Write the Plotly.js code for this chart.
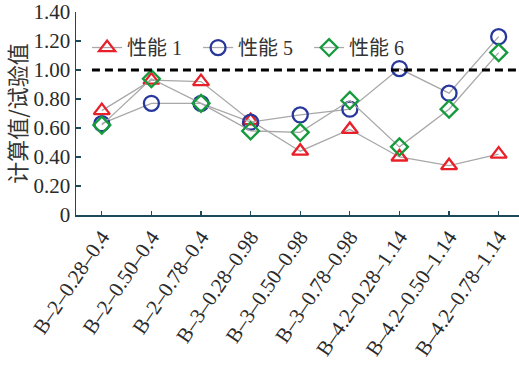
<!DOCTYPE html>
<html>
<head>
<meta charset="utf-8">
<script src="https://cdn.plot.ly/plotly-3.0.1.min.js"></script>
<style>html,body{margin:0;padding:0;background:#fff;}#chart{width:519px;height:368px;}</style>
</head>
<body>
<div id="chart"></div>
<script>
const categories = ["B–2–0.28–0.4","B–2–0.50–0.4","B–2–0.78–0.4","B–3–0.28–0.98","B–3–0.50–0.98","B–3–0.78–0.98","B–4.2–0.28–1.14","B–4.2–0.50–1.14","B–4.2–0.78–1.14"];
const perf1 = [0.72, 0.93, 0.92, 0.65, 0.44, 0.59, 0.40, 0.34, 0.42];
const perf5 = [0.63, 0.77, 0.77, 0.64, 0.69, 0.73, 1.01, 0.84, 1.23];
const perf6 = [0.62, 0.94, 0.77, 0.58, 0.57, 0.79, 0.47, 0.73, 1.12];
const seriesNames = ["性能 1", "性能 5", "性能 6"];
const refValue = 1.0;
const yTickVals = [0, 0.2, 0.4, 0.6, 0.8, 1.0, 1.2, 1.4];
const yTickText = ["0", "0.20", "0.40", "0.60", "0.80", "1.00", "1.20", "1.40"];

const xIdx = categories.map((_, i) => i);
const lineGray = "#a8a8a8";
const axisColor = "#1d4a58";
const fontFam = "Liberation Serif, Noto Sans CJK SC, serif";

const traces = [
  {x: xIdx, y: perf1, name: seriesNames[0], mode: "lines+markers",
   line: {color: lineGray, width: 1.3},
   marker: {symbol: "triangle-up-open", size: 14, color: "#e8202a", line: {width: 2.3, color: "#e8202a"}}},
  {x: xIdx, y: perf5, name: seriesNames[1], mode: "lines+markers",
   line: {color: lineGray, width: 1.3},
   marker: {symbol: "circle-open", size: 15, color: "#27379a", line: {width: 2.3, color: "#27379a"}}},
  {x: xIdx, y: perf6, name: seriesNames[2], mode: "lines+markers",
   line: {color: lineGray, width: 1.3},
   marker: {symbol: "diamond-open", size: 13, color: "#159a3c", line: {width: 2.3, color: "#159a3c"}}}
];

const layout = {
  width: 519, height: 368,
  margin: {l: 76, r: 0, t: 12, b: 153},
  paper_bgcolor: "#fff", plot_bgcolor: "#fff",
  font: {family: fontFam, color: "#2a2a2a", size: 19},
  showlegend: true,
  legend: {orientation: "h", x: 0.025, xanchor: "left", y: 0.825, yanchor: "middle",
           bgcolor: "rgba(0,0,0,0)", font: {size: 20, family: fontFam, color: "#333"},
           entrywidth: 66, entrywidthmode: "pixels", tracegroupgap: 0},
  xaxis: {
    range: [-0.52, 8.41],
    tickmode: "array", tickvals: xIdx, ticktext: categories,
    tickangle: -56, ticks: "inside", ticklen: 4, tickcolor: axisColor, tickwidth: 1.2,
    showline: true, linecolor: axisColor, linewidth: 1.5,
    showgrid: false, zeroline: false,
    tickfont: {size: 21, family: fontFam, color: "#2a2a2a"}
  },
  yaxis: {
    range: [0, 1.4],
    tickmode: "array", tickvals: yTickVals, ticktext: yTickText,
    ticks: "inside", ticklen: 5, tickcolor: axisColor, tickwidth: 1.2,
    showline: true, linecolor: axisColor, linewidth: 1.5,
    showgrid: false, zeroline: false,
    tickfont: {size: 21, family: fontFam, color: "#2a2a2a"},
    title: {text: "计算值/试验值", font: {size: 22, family: "Noto Sans CJK SC, sans-serif", color: "#333"}, standoff: 6}
  },
  shapes: [
    {type: "line", xref: "paper", yref: "y", x0: 0.036, x1: 1, y0: refValue, y1: refValue,
     line: {color: "#000", width: 3, dash: "8px,5px"}}
  ]
};

Plotly.newPlot("chart", traces, layout, {displayModeBar: false, staticPlot: true});
</script>
</body>
</html>
